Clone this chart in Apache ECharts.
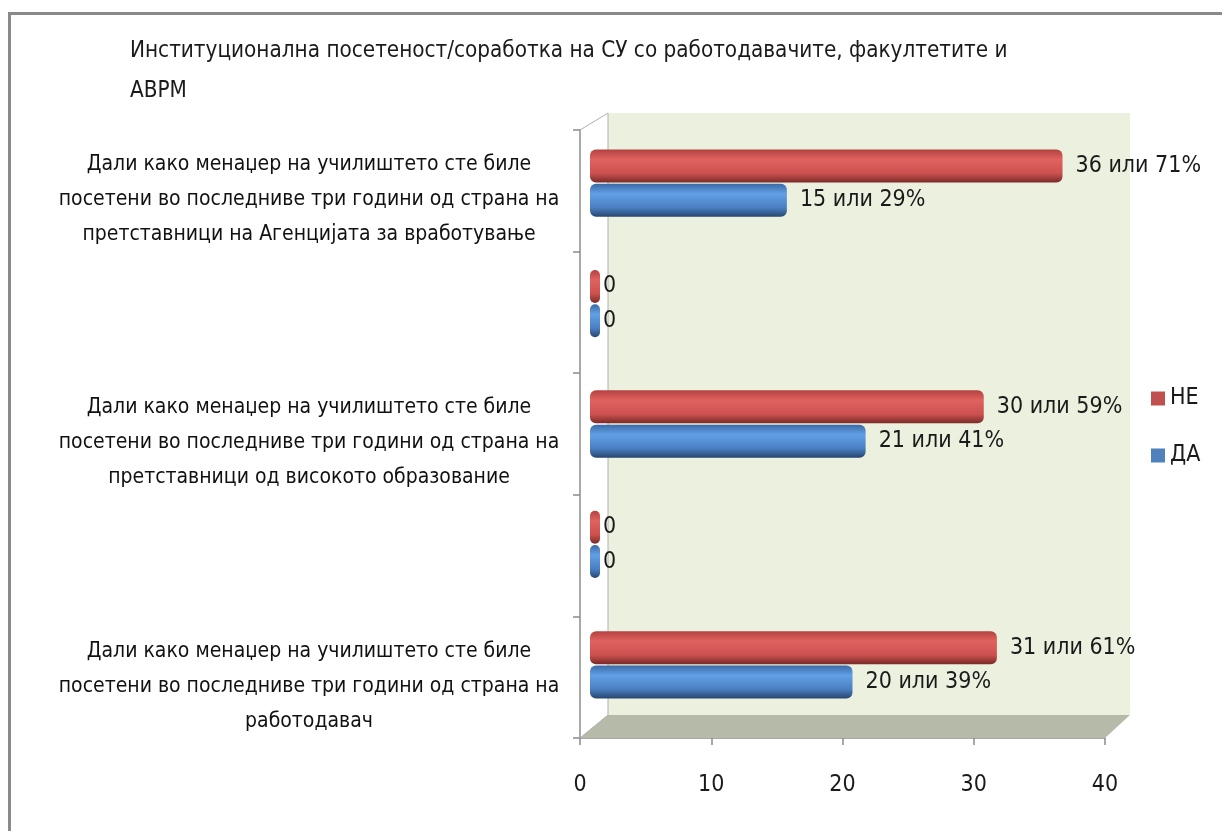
<!DOCTYPE html>
<html><head><meta charset="utf-8">
<script src="https://cdn.jsdelivr.net/npm/echarts@6/dist/echarts.min.js"></script>
<style>html,body{margin:0;padding:0;background:#fff}#c{width:1222px;height:831px}</style>
</head><body><div id="c"></div>
<script>
const titleText = 'Институционална посетеност/соработка на СУ со работодавачите, факултетите и\nАВРМ';
const categories = [
  'Дали како менаџер на училиштето сте биле\nпосетени во последниве три години од страна на\nработодавач',
  '',
  'Дали како менаџер на училиштето сте биле\nпосетени во последниве три години од страна на\nпретставници од високото образование',
  '',
  'Дали како менаџер на училиштето сте биле\nпосетени во последниве три години од страна на\nпретставници на Агенцијата за вработување'
];
const seriesNames = ['НЕ', 'ДА'];
const neValues = [31, 0, 30, 0, 36];
const nePercent = [61, null, 59, null, 71];
const daValues = [20, 0, 21, 0, 15];
const daPercent = [39, null, 41, null, 29];
const xTicks = { min: 0, max: 40, interval: 10 };

const FONT = '"Liberation Sans Narrow","DejaVu Sans Condensed","Liberation Sans",sans-serif';
function grad(c0, c1, c2, c3) {
  return new echarts.graphic.LinearGradient(0, 0, 0, 1, [
    { offset: 0, color: c0 }, { offset: 0.3, color: c1 }, { offset: 0.72, color: c2 }, { offset: 1, color: c3 }
  ]);
}
function items(vals, pcts) {
  return vals.map(function (v, i) {
    return {
      value: v,
      label: {
        distance: v === 0 ? 3 : 13,
        formatter: pcts[i] == null ? String(v) : v + ' или ' + pcts[i] + '%'
      }
    };
  });
}
const chart = echarts.init(document.getElementById('c'));
const gridLine = '#8c8c8c';
chart.setOption({
  animation: false,
  backgroundColor: '#fff',
  title: {
    text: titleText, left: 125, top: 26,
    textStyle: { fontFamily: FONT, fontSize: 22.3, fontWeight: 'normal', color: '#1a1a1a', lineHeight: 40 }
  },
  legend: {
    orient: 'vertical', left: 1146, top: 382, itemWidth: 14, itemHeight: 14, itemGap: 34,
    icon: 'rect',
    textStyle: { fontFamily: FONT, fontSize: 23, color: '#1a1a1a' },
    data: [
      { name: 'НЕ', itemStyle: { color: '#c0504d' } },
      { name: 'ДА', itemStyle: { color: '#4f81bd' } }
    ]
  },
  graphic: [
    { type: 'polyline', shape: { points: [[9.5, 831], [9.5, 13.5], [1222, 13.5]] }, style: { stroke: '#8a8a8a', lineWidth: 3, fill: null }, z: 10 },
    { type: 'polygon', shape: { points: [[580, 738], [1105, 738], [1130, 715], [608, 715]] }, style: { fill: '#b6baa8' }, z: 1 },
    { type: 'polyline', shape: { points: [[580, 130], [608, 113], [608, 715], [580, 738]] }, style: { stroke: '#b0b0b0', lineWidth: 1, fill: null }, z: 1 }
  ],
  grid: [
    { left: 580, top: 130, right: 117, bottom: 93 },
    { left: 590, top: 123, right: 107, bottom: 106 },
    { left: 608, top: 113, right: 92, bottom: 116, show: true, backgroundColor: '#ebf1de', borderWidth: 0, z: 0 },
    { left: 580, top: 139, right: 117, bottom: 84 }
  ],
  xAxis: [
    { gridIndex: 0, type: 'value', min: xTicks.min, max: xTicks.max, interval: xTicks.interval,
      axisLine: { show: true, lineStyle: { color: gridLine, width: 1.5 } },
      axisTick: { show: true, length: 7, lineStyle: { color: gridLine, width: 1.5 } },
      splitLine: { show: false },
      axisLabel: { fontFamily: FONT, fontSize: 23, color: '#1a1a1a', margin: 36 } },
    { gridIndex: 1, type: 'value', min: xTicks.min, max: xTicks.max, show: false },
    { gridIndex: 2, type: 'value', min: 0, max: 1, show: false },
    { gridIndex: 3, type: 'value', min: xTicks.min, max: xTicks.max, show: false }
  ],
  yAxis: [
    { gridIndex: 0, type: 'category', data: categories,
      axisLine: { show: true, lineStyle: { color: gridLine, width: 1.5 } },
      axisTick: { show: true, length: 7, lineStyle: { color: gridLine, width: 1.5 } },
      axisLabel: { show: false } },
    { gridIndex: 1, type: 'category', data: categories, show: false },
    { gridIndex: 2, type: 'category', data: [''], show: false },
    { gridIndex: 3, type: 'category', data: categories,
      axisLine: { show: false }, axisTick: { show: false },
      axisLabel: { fontFamily: FONT, fontSize: 21, color: '#111', align: 'center', margin: 271, lineHeight: 35, interval: 0 } }
  ],
  series: [
    { name: seriesNames[0], type: 'bar', xAxisIndex: 1, yAxisIndex: 1, data: items(neValues, nePercent),
      barWidth: 33, barGap: '4%', barMinHeight: 10, z: 3,
      itemStyle: { color: grad('#b34240', '#e0625f', '#cc524f', '#7a2a28'), borderRadius: 6 },
      label: { show: true, position: 'right', fontFamily: FONT, fontSize: 23, color: '#1a1a1a' } },
    { name: seriesNames[1], type: 'bar', xAxisIndex: 1, yAxisIndex: 1, data: items(daValues, daPercent),
      barWidth: 33, barGap: '4%', barMinHeight: 10, z: 3,
      itemStyle: { color: grad('#3b6aa6', '#62a0e6', '#4a7fc2', '#274670'), borderRadius: 6 },
      label: { show: true, position: 'right', fontFamily: FONT, fontSize: 23, color: '#1a1a1a' } }
  ]
});
</script></body></html>
